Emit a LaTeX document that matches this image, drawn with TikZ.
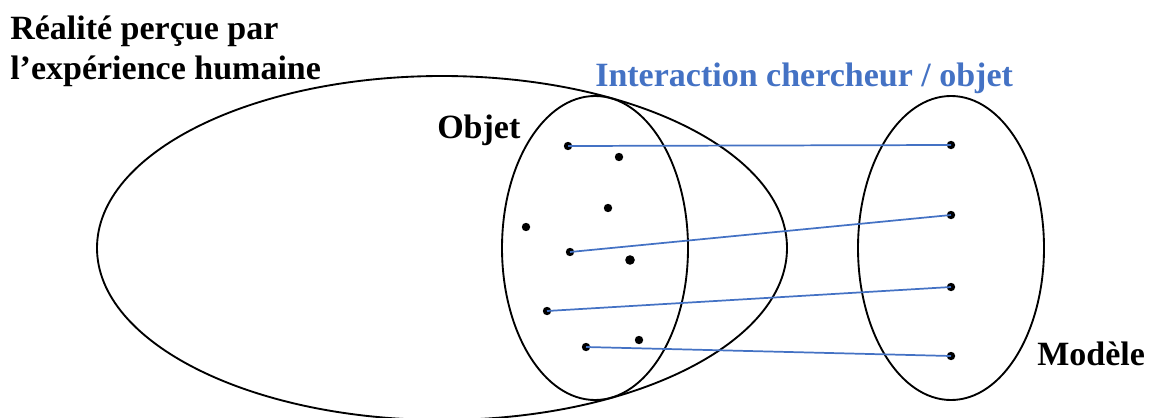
\documentclass[tikz,border=0pt]{standalone}
\usepackage{fontspec}
\setmainfont{Liberation Serif}
\usetikzlibrary{shapes.geometric}
\definecolor{linkblue}{RGB}{68,114,196}
\tikzset{
  setshape/.style={draw=black, line width=1.4pt, ellipse, inner sep=0pt},
  pt/.style={circle, fill=black, inner sep=0pt, minimum size=6.3pt},
  link/.style={draw=linkblue, line width=1.3pt},
  lbl/.style={font=\bfseries\fontsize{25.5}{30}\selectfont, inner sep=0pt, anchor=base west},
}
\begin{document}
\begin{tikzpicture}[x=0.75pt, y=-0.75pt]
\useasboundingbox (0,0) rectangle (1151,417);
% sets
\node[setshape, minimum width=690*0.75pt, minimum height=344*0.75pt] (real) at (442,248) {};
\node[setshape, minimum width=186*0.75pt, minimum height=304*0.75pt] (obj) at (595,248) {};
\node[setshape, minimum width=186*0.75pt, minimum height=304*0.75pt] (mod) at (951,248) {};
% points of the object
\node[pt] (o1) at (568,146) {};
\node[pt] (o2) at (619,157) {};
\node[pt] (o3) at (608,208) {};
\node[pt] (o4) at (526,227) {};
\node[pt] (o5) at (570,252) {};
\node[pt, minimum size=7.2pt] (o6) at (630,260) {};
\node[pt] (o7) at (547,311) {};
\node[pt] (o8) at (639,340) {};
\node[pt] (o9) at (586,347) {};
% points of the model
\node[pt] (m1) at (951,145) {};
\node[pt] (m2) at (951,215) {};
\node[pt] (m3) at (951,287) {};
\node[pt] (m4) at (951,356) {};
% links
\draw[link] (o1.center) -- (m1.center);
\draw[link] (o5.center) -- (m2.center);
\draw[link] (o7.center) -- (m3.center);
\draw[link] (o9.center) -- (m4.center);
% labels
\node[lbl] (t1) at (10,40) {Réalité perçue par};
\node[lbl] (t2) at (10,80) {l’expérience humaine};
\node[lbl, text=linkblue] (t3) at (595,87) {Interaction chercheur / objet};
\node[lbl] (t4) at (437,138) {Objet};
\node[lbl] (t5) at (1037,365) {Modèle};
\end{tikzpicture}
\end{document}
